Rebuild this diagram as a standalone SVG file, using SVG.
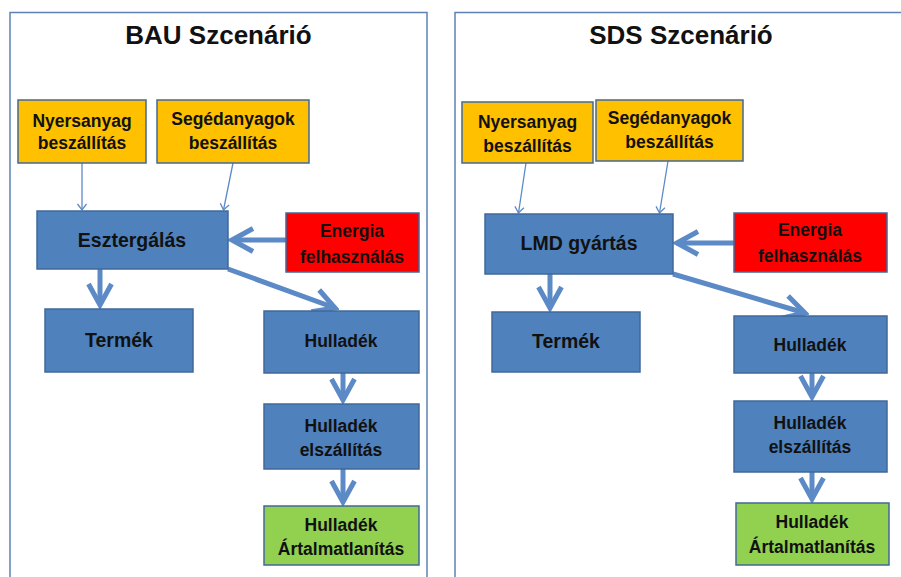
<svg xmlns="http://www.w3.org/2000/svg" width="901" height="577" viewBox="0 0 901 577">
  <style>
    .frame { fill: none; stroke: #5d82b3; stroke-width: 1.5; }
    .box { stroke: #41689a; stroke-width: 1.5; }
    .proc { fill: #4f81bd; }
    .supply { fill: #ffc000; }
    .energy { fill: #ff0000; }
    .dispose { fill: #92d050; }
    .title { font-family: "Liberation Sans", Arial, sans-serif; font-weight: bold; font-size: 26px; fill: #111; text-anchor: middle; }
    .lbl { font-family: "Liberation Sans", Arial, sans-serif; font-weight: bold; font-size: 17.5px; fill: #111; text-anchor: middle; }
    .lbl-lg { font-family: "Liberation Sans", Arial, sans-serif; font-weight: bold; font-size: 19.5px; fill: #111; text-anchor: middle; }
    .thin { stroke: #5b8ac6; stroke-width: 1.3; fill: none; marker-end: url(#headThin); }
    .thick { stroke: #5b8ac6; stroke-width: 5; fill: none; marker-end: url(#headThick); }
  </style>
  <defs>
    <marker id="headThin" markerUnits="userSpaceOnUse" viewBox="-8 -6 10 12" refX="0" refY="0" markerWidth="10" markerHeight="12" orient="auto">
      <path d="M-6,-4.5 L0,0 L-6,4.5" fill="none" stroke="#5b8ac6" stroke-width="1.3"/>
    </marker>
    <marker id="headThick" markerUnits="userSpaceOnUse" viewBox="-26 -16 30 32" refX="0" refY="0" markerWidth="30" markerHeight="32" orient="auto">
      <path d="M-21,-11.5 L0,0 L-21,11.5" fill="none" stroke="#5b8ac6" stroke-width="5" stroke-linejoin="miter"/>
    </marker>
  </defs>

  <rect width="901" height="577" fill="#ffffff"/>

  <!-- scenario frames -->
  <rect class="frame" x="10" y="12.5" width="417" height="580"/>
  <rect class="frame" x="455" y="12.5" width="460" height="580"/>
  <text class="title" x="218.5" y="44">BAU Szcenárió</text>
  <text class="title" x="681" y="44">SDS Szcenárió</text>

  <!-- connectors -->
  <g id="connectors">
    <!-- BAU -->
    <line class="thin" x1="82" y1="163" x2="82" y2="210"/>
    <line class="thin" x1="233" y1="163" x2="223.5" y2="210"/>
    <line class="thick" x1="286" y1="240" x2="232" y2="240"/>
    <line class="thick" x1="100" y1="269" x2="100" y2="305"/>
    <line class="thick" x1="228" y1="269" x2="335" y2="308"/>
    <line class="thick" x1="343" y1="373" x2="343" y2="400"/>
    <line class="thick" x1="343" y1="469" x2="343" y2="502"/>
    <!-- SDS -->
    <line class="thin" x1="526" y1="163" x2="518.5" y2="213"/>
    <line class="thin" x1="668" y1="161" x2="659.5" y2="213"/>
    <line class="thick" x1="734" y1="243" x2="677" y2="243"/>
    <line class="thick" x1="550" y1="274" x2="550" y2="308"/>
    <line class="thick" x1="673" y1="274" x2="805" y2="313"/>
    <line class="thick" x1="812" y1="373" x2="812" y2="397"/>
    <line class="thick" x1="812" y1="472" x2="812" y2="499"/>
  </g>

  <!-- BAU nodes -->
  <g id="bau-nyersanyag">
    <rect class="box supply" x="18" y="100" width="128" height="63"/>
    <text class="lbl" x="82" y="127">Nyersanyag</text>
    <text class="lbl" x="82" y="149">beszállítás</text>
  </g>
  <g id="bau-segedanyagok">
    <rect class="box supply" x="157" y="100" width="152" height="63"/>
    <text class="lbl" x="233" y="125">Segédanyagok</text>
    <text class="lbl" x="233" y="149">beszállítás</text>
  </g>
  <g id="bau-esztergalas">
    <rect class="box proc" x="37" y="211" width="191" height="58"/>
    <text class="lbl-lg" x="132" y="247">Esztergálás</text>
  </g>
  <g id="bau-energia">
    <rect class="box energy" x="286" y="213" width="133" height="59"/>
    <text class="lbl" x="352" y="237">Energia</text>
    <text class="lbl" x="352" y="263">felhasználás</text>
  </g>
  <g id="bau-termek">
    <rect class="box proc" x="45" y="309" width="148" height="63"/>
    <text class="lbl-lg" x="119" y="347">Termék</text>
  </g>
  <g id="bau-hulladek">
    <rect class="box proc" x="264" y="311" width="155" height="62"/>
    <text class="lbl" x="341" y="347">Hulladék</text>
  </g>
  <g id="bau-elszallitas">
    <rect class="box proc" x="264" y="404" width="155" height="65"/>
    <text class="lbl" x="341" y="432">Hulladék</text>
    <text class="lbl" x="341" y="456">elszállítás</text>
  </g>
  <g id="bau-artalmatlanitas">
    <rect class="box dispose" x="264" y="506" width="155" height="59"/>
    <text class="lbl" x="341" y="531">Hulladék</text>
    <text class="lbl" x="341" y="555">Ártalmatlanítás</text>
  </g>

  <!-- SDS nodes -->
  <g id="sds-nyersanyag">
    <rect class="box supply" x="462" y="102" width="131" height="61"/>
    <text class="lbl" x="527.5" y="128">Nyersanyag</text>
    <text class="lbl" x="527.5" y="152">beszállítás</text>
  </g>
  <g id="sds-segedanyagok">
    <rect class="box supply" x="596" y="100" width="147" height="61"/>
    <text class="lbl" x="669.5" y="124">Segédanyagok</text>
    <text class="lbl" x="669.5" y="148">beszállítás</text>
  </g>
  <g id="sds-lmd">
    <rect class="box proc" x="485" y="214" width="188" height="60"/>
    <text class="lbl-lg" x="579" y="250">LMD gyártás</text>
  </g>
  <g id="sds-energia">
    <rect class="box energy" x="734" y="213" width="153" height="59"/>
    <text class="lbl" x="810" y="236">Energia</text>
    <text class="lbl" x="810" y="262">felhasználás</text>
  </g>
  <g id="sds-termek">
    <rect class="box proc" x="492" y="312" width="148" height="60"/>
    <text class="lbl-lg" x="566" y="348">Termék</text>
  </g>
  <g id="sds-hulladek">
    <rect class="box proc" x="734" y="316" width="153" height="57"/>
    <text class="lbl" x="810" y="351">Hulladék</text>
  </g>
  <g id="sds-elszallitas">
    <rect class="box proc" x="734" y="401" width="153" height="71"/>
    <text class="lbl" x="810" y="429">Hulladék</text>
    <text class="lbl" x="810" y="453">elszállítás</text>
  </g>
  <g id="sds-artalmatlanitas">
    <rect class="box dispose" x="736" y="503" width="153" height="62"/>
    <text class="lbl" x="812" y="528">Hulladék</text>
    <text class="lbl" x="812" y="553">Ártalmatlanítás</text>
  </g>
</svg>
